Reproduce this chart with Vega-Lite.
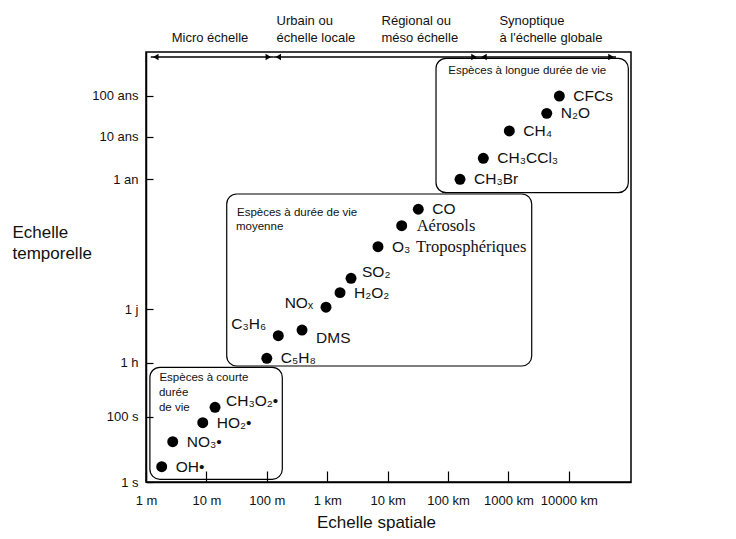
{
  "$schema": "https://vega.github.io/schema/vega-lite/v6.json",
  "width": 485,
  "height": 430,
  "autosize": {"type": "none"},
  "padding": {"left": 146, "top": 52, "right": 105, "bottom": 57},
  "background": "white",
  "config": {
    "font": "Liberation Sans",
    "view": {"stroke": "black", "strokeWidth": 1.5},
    "axis": {"grid": false}
  },
  "datasets": {
    "especes": [
      {"espece": "CFCs", "label": "CFCs", "m": 6970000, "s": 3100000000},
      {"espece": "N2O", "label": "N₂O", "m": 4310000, "s": 1170000000},
      {"espece": "CH4", "label": "CH₄", "m": 1035000, "s": 435000000},
      {"espece": "CH3CCl3", "label": "CH₃CCl₃", "m": 384000, "s": 98000000},
      {"espece": "CH3Br", "label": "CH₃Br", "m": 158000, "s": 31500000},
      {"espece": "CO", "label": "CO", "m": 32200, "s": 8100000},
      {"espece": "Aerosols", "label": "Aérosols", "m": 17100, "s": 3840000},
      {"espece": "O3", "label": "O₃", "qualificatif": "Troposphériques", "m": 6930, "s": 1480000},
      {"espece": "SO2", "label": "SO₂", "m": 2480, "s": 353000},
      {"espece": "H2O2", "label": "H₂O₂", "m": 1630, "s": 184000},
      {"espece": "NOx", "label": "NOₓ", "m": 955, "s": 95000},
      {"espece": "DMS", "label": "DMS", "m": 383, "s": 25200},
      {"espece": "C3H6", "label": "C₃H₆", "m": 155, "s": 18000},
      {"espece": "C5H8", "label": "C₅H₈", "m": 100, "s": 4680},
      {"espece": "CH3O2", "label": "CH₃O₂•", "m": 13.9, "s": 187},
      {"espece": "HO2", "label": "HO₂•", "m": 8.7, "s": 65.5},
      {"espece": "NO3", "label": "NO₃•", "m": 2.77, "s": 17.1},
      {"espece": "OH", "label": "OH•", "m": 1.82, "s": 2.94}
    ],
    "boites": [
      {"groupe": "longue", "m": 63300, "m2": 96600000, "s": 25500000000, "s2": 17200000},
      {"groupe": "moyenne", "m": 21.7, "m2": 2430000, "s": 16200000, "s2": 2891},
      {"groupe": "courte", "m": 1.16, "m2": 180.6, "s": 2650, "s2": 1.21}
    ],
    "titres": [
      {"texte": "Espèces à longue durée de vie", "m": 101000, "s": 12800000000},
      {"texte": "Espèces à durée de vie", "m": 32.1, "s": 6930000},
      {"texte": "moyenne", "m": 30.9, "s": 3670000},
      {"texte": "Espèces à courte", "m": 1.67, "s": 1277},
      {"texte": "durée", "m": 1.64, "s": 472},
      {"texte": "de vie", "m": 1.64, "s": 182}
    ],
    "echelles": [
      {"texte": "Micro échelle", "m": 2.66, "s": 78100000000},
      {"texte": "Urbain ou", "m": 145, "s": 200000000000},
      {"texte": "échelle locale", "m": 145, "s": 78100000000},
      {"texte": "Régional ou", "m": 7925, "s": 200000000000},
      {"texte": "méso échelle", "m": 7925, "s": 78100000000},
      {"texte": "Synoptique", "m": 710000, "s": 200000000000},
      {"texte": "à l'échelle globale", "m": 710000, "s": 78100000000}
    ],
    "segments": [
      {"m": 1.2, "m2": 128, "s": 27500000000},
      {"m": 128, "m2": 326000, "s": 27500000000},
      {"m": 326000, "m2": 60400000, "s": 27500000000}
    ],
    "limites": [
      {"m": 1.2},
      {"m": 128},
      {"m": 326000},
      {"m": 60400000}
    ]
  },
  "encoding": {
    "x": {
      "field": "m",
      "type": "quantitative",
      "scale": {"type": "log", "domain": [1, 107000000], "nice": false},
      "axis": {
        "title": "Echelle spatiale",
        "values": [1, 10, 100, 1000, 10000, 100000, 1000000, 10000000],
        "labelExpr": "datum.value < 1000 ? format(datum.value, 'd') + ' m' : format(datum.value / 1000, 'd') + ' km'",
        "tickSize": -11,
        "labelPadding": 23,
        "labelFlush": false,
        "labelOverlap": false,
        "labelFontSize": 13,
        "labelColor": "#111",
        "domainColor": "black",
        "domainWidth": 1.5,
        "tickColor": "black",
        "tickWidth": 1.2,
        "titleFontSize": 17,
        "titleFontWeight": "normal",
        "titleColor": "#111",
        "titleX": 230,
        "titleY": 40,
        "titleBaseline": "middle"
      }
    },
    "y": {
      "field": "s",
      "type": "quantitative",
      "scale": {
        "type": "log",
        "domain": [1, 100, 3600, 86400, 31536000, 315360000, 3153600000, 36300000000],
        "range": [430, 364.7, 310.7, 257.3, 127.3, 84.7, 43.7, 0],
        "nice": false
      },
      "axis": {
        "title": ["Echelle", "temporelle"],
        "values": [1, 100, 3600, 86400, 31536000, 315360000, 3153600000],
        "labelExpr": "datum.value < 50 ? '1 s' : datum.value < 1000 ? '100 s' : datum.value < 10000 ? '1 h' : datum.value < 1000000 ? '1 j' : datum.value < 100000000 ? '1 an' : datum.value < 1000000000 ? '10 ans' : '100 ans'",
        "tickSize": -7,
        "labelPadding": 15,
        "labelFontSize": 13,
        "labelColor": "#111",
        "domainColor": "black",
        "domainWidth": 1.5,
        "tickColor": "black",
        "tickWidth": 1.2,
        "titleAngle": 0,
        "titleAlign": "left",
        "titleBaseline": "top",
        "titleX": -134,
        "titleY": 172,
        "titleFontSize": 17,
        "titleLineHeight": 21,
        "titleFontWeight": "normal",
        "titleColor": "#111"
      }
    }
  },
  "layer": [
    {
      "data": {"name": "boites"},
      "mark": {"type": "rect", "filled": false, "fill": null, "stroke": "black", "strokeWidth": 1.2, "cornerRadius": 10},
      "encoding": {"x2": {"field": "m2"}, "y2": {"field": "s2"}}
    },
    {
      "data": {"name": "segments"},
      "mark": {"type": "rule", "color": "black", "strokeWidth": 1.4},
      "encoding": {"x2": {"field": "m2"}}
    },
    {
      "data": {"name": "limites"},
      "mark": {"type": "rule", "color": "black", "strokeWidth": 1.2},
      "encoding": {"y": {"datum": 48000000000}, "y2": {"datum": 17500000000}}
    },
    {
      "data": {"name": "segments"},
      "mark": {"type": "point", "shape": "triangle-left", "filled": true, "color": "black", "size": 40, "xOffset": 5, "opacity": 1}
    },
    {
      "data": {"name": "segments"},
      "mark": {"type": "point", "shape": "triangle-right", "filled": true, "color": "black", "size": 40, "xOffset": -5, "opacity": 1},
      "encoding": {"x": {"field": "m2", "type": "quantitative"}}
    },
    {
      "data": {"name": "echelles"},
      "mark": {"type": "text", "align": "left", "baseline": "middle", "fontSize": 13, "color": "#111"},
      "encoding": {"text": {"field": "texte"}}
    },
    {
      "data": {"name": "titres"},
      "mark": {"type": "text", "align": "left", "baseline": "middle", "fontSize": 11.5, "color": "#111"},
      "encoding": {"text": {"field": "texte"}}
    },
    {
      "data": {"name": "especes"},
      "mark": {"type": "circle", "size": 120, "color": "black", "opacity": 1}
    },
    {
      "data": {"name": "especes"},
      "transform": [{"filter": {"field": "espece", "oneOf": ["CFCs", "N2O", "CH4", "CH3CCl3", "CH3Br", "CO", "O3", "H2O2", "C5H8", "HO2", "NO3", "OH"]}}],
      "mark": {"type": "text", "align": "left", "baseline": "middle", "dx": 14, "fontSize": 15.5, "color": "#111"},
      "encoding": {"text": {"field": "label"}}
    },
    {
      "data": {"name": "especes"},
      "transform": [{"filter": {"field": "espece", "oneOf": ["SO2", "CH3O2"]}}],
      "mark": {"type": "text", "align": "left", "baseline": "middle", "dx": 11, "dy": -6, "fontSize": 15.5, "color": "#111"},
      "encoding": {"text": {"field": "label"}}
    },
    {
      "data": {"name": "especes"},
      "transform": [{"filter": {"field": "espece", "oneOf": ["DMS"]}}],
      "mark": {"type": "text", "align": "left", "baseline": "middle", "dx": 14, "dy": 8, "fontSize": 15.5, "color": "#111"},
      "encoding": {"text": {"field": "label"}}
    },
    {
      "data": {"name": "especes"},
      "transform": [{"filter": {"field": "espece", "oneOf": ["NOx"]}}],
      "mark": {"type": "text", "align": "right", "baseline": "middle", "dx": -13, "dy": -4, "fontSize": 15.5, "color": "#111"},
      "encoding": {"text": {"field": "label"}}
    },
    {
      "data": {"name": "especes"},
      "transform": [{"filter": {"field": "espece", "oneOf": ["C3H6"]}}],
      "mark": {"type": "text", "align": "right", "baseline": "middle", "dx": -12, "dy": -12, "fontSize": 15.5, "color": "#111"},
      "encoding": {"text": {"field": "label"}}
    },
    {
      "data": {"name": "especes"},
      "transform": [{"filter": {"field": "espece", "oneOf": ["Aerosols"]}}],
      "mark": {"type": "text", "align": "left", "baseline": "middle", "dx": 15, "fontSize": 16.5, "font": "Liberation Serif", "color": "#111"},
      "encoding": {"text": {"field": "label"}}
    },
    {
      "data": {"name": "especes"},
      "transform": [{"filter": "isValid(datum.qualificatif)"}],
      "mark": {"type": "text", "align": "left", "baseline": "middle", "dx": 38, "fontSize": 16.5, "font": "Liberation Serif", "color": "#111"},
      "encoding": {"text": {"field": "qualificatif"}}
    }
  ]
}
